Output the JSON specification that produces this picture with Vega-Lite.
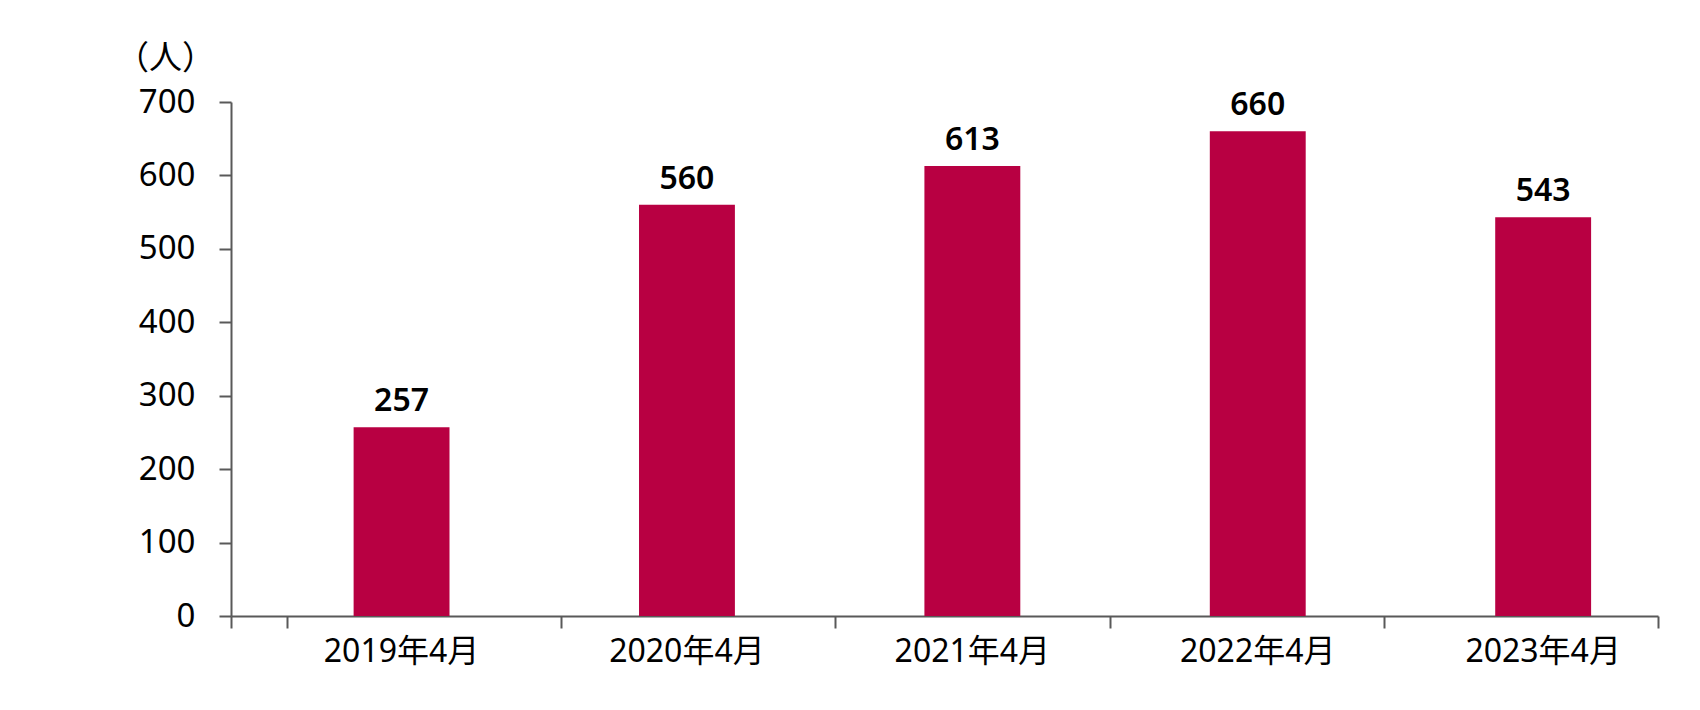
{
  "$schema": "https://vega.github.io/schema/vega-lite/v6.json",
  "autosize": "none",
  "padding": {"left": 231, "top": 102, "right": 42, "bottom": 94},
  "width": 1427,
  "height": 514,
  "config": {
    "view": {"stroke": null},
    "font": "Noto Sans, Noto Sans CJK JP",
    "axis": {
      "domainColor": "#595959",
      "tickColor": "#595959",
      "domainWidth": 2,
      "tickWidth": 2,
      "labelColor": "#000000",
      "titleColor": "#000000",
      "labelFont": "Noto Sans, Noto Sans CJK JP",
      "titleFont": "Noto Sans CJK JP",
      "grid": false
    }
  },
  "layer": [
    {
      "data": {
        "values": [
          {"month": "2019年4月", "people": 257},
          {"month": "2020年4月", "people": 560},
          {"month": "2021年4月", "people": 613},
          {"month": "2022年4月", "people": 660},
          {"month": "2023年4月", "people": 543}
        ]
      },
      "encoding": {
        "x": {
          "field": "month",
          "type": "nominal",
          "sort": null,
          "scale": {"paddingInner": 0.664, "paddingOuter": 0.332, "align": 0.647},
          "axis": {
            "title": null,
            "domain": false,
            "ticks": false,
            "labelAngle": 0,
            "labelFontSize": 32,
            "labelBaseline": "middle",
            "labelPadding": 35
          }
        },
        "y": {
          "field": "people",
          "type": "quantitative",
          "scale": {"domain": [0, 700], "nice": false},
          "axis": {
            "values": [0, 100, 200, 300, 400, 500, 600, 700],
            "tickSize": 12,
            "labelPadding": 24,
            "labelFontSize": 33,
            "title": "（人）",
            "titleAngle": 0,
            "titleFontSize": 33,
            "titleFontWeight": "normal",
            "titleAlign": "center",
            "titleBaseline": "middle",
            "titleX": -66,
            "titleY": -44
          }
        }
      },
      "layer": [
        {"mark": {"type": "bar", "color": "#B80042"}},
        {
          "mark": {
            "type": "text",
            "fontSize": 32,
            "fontWeight": 600,
            "baseline": "alphabetic",
            "dy": -16,
            "color": "#000000"
          },
          "encoding": {"text": {"field": "people", "type": "quantitative"}}
        }
      ]
    },
    {
      "data": {"values": [{"pos": 0}, {"pos": 5}]},
      "mark": {"type": "point", "opacity": 0},
      "encoding": {
        "x": {
          "field": "pos",
          "type": "quantitative",
          "scale": {"domain": [-0.2042, 5], "nice": false, "zero": false},
          "axis": {
            "orient": "bottom",
            "values": [-0.2042, 0, 1, 2, 3, 4, 5],
            "labels": false,
            "title": null,
            "tickSize": 12
          }
        }
      }
    }
  ],
  "resolve": {"scale": {"x": "independent"}, "axis": {"x": "independent"}}
}
